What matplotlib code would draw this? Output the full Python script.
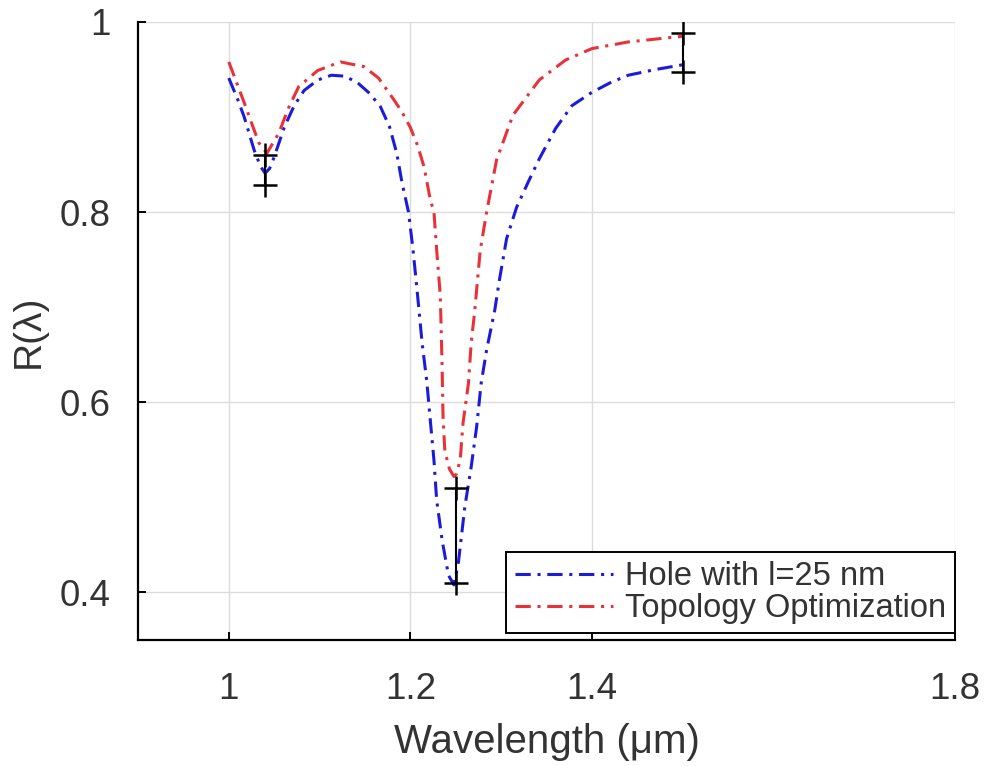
import matplotlib.pyplot as plt

plt.rcParams['font.family'] = ['Liberation Sans', 'DejaVu Sans']

# reflectance of the hole design (blue) and topology optimized design (red)
wl_hole = [1.000, 1.010, 1.017, 1.028, 1.035, 1.040, 1.045, 1.050, 1.061, 1.072,
           1.083, 1.098, 1.113, 1.128, 1.142, 1.155, 1.167, 1.177, 1.185, 1.191,
           1.198, 1.203, 1.208, 1.213, 1.218, 1.222, 1.226, 1.229, 1.235, 1.242,
           1.248, 1.253, 1.260, 1.267, 1.273, 1.278, 1.284, 1.293, 1.298, 1.306,
           1.317, 1.330, 1.342, 1.360, 1.378, 1.400, 1.420, 1.440, 1.470, 1.500]
r_hole = [0.941, 0.918, 0.900, 0.865, 0.848, 0.841, 0.846, 0.858, 0.889, 0.912,
          0.928, 0.939, 0.944, 0.943, 0.936, 0.925, 0.911, 0.890, 0.862, 0.830,
          0.800, 0.760, 0.712, 0.662, 0.623, 0.581, 0.539, 0.497, 0.455, 0.418,
          0.408, 0.432, 0.490, 0.532, 0.574, 0.620, 0.655, 0.697, 0.728, 0.772,
          0.805, 0.832, 0.856, 0.888, 0.912, 0.926, 0.936, 0.944, 0.950, 0.955]

wl_topo = [1.000, 1.017, 1.033, 1.042, 1.055, 1.066, 1.077, 1.098, 1.123, 1.149,
           1.165, 1.182, 1.191, 1.200, 1.208, 1.215, 1.222, 1.226, 1.229, 1.233,
           1.235, 1.236, 1.238, 1.243, 1.248, 1.251, 1.255, 1.258, 1.264, 1.267,
           1.271, 1.277, 1.284, 1.295, 1.313, 1.342, 1.371, 1.400, 1.440, 1.470,
           1.500]
r_topo = [0.958, 0.915, 0.873, 0.862, 0.883, 0.910, 0.932, 0.949, 0.958, 0.953,
          0.941, 0.918, 0.905, 0.889, 0.870, 0.848, 0.813, 0.800, 0.760, 0.712,
          0.637, 0.585, 0.549, 0.530, 0.522, 0.525, 0.540, 0.578, 0.620, 0.662,
          0.697, 0.760, 0.800, 0.855, 0.902, 0.939, 0.960, 0.972, 0.979, 0.982,
          0.985]

# black +-markers showing the gap between the two curves
gap_wl = [1.04, 1.25, 1.5]
gap_low = [0.829, 0.410, 0.947]
gap_high = [0.860, 0.510, 0.988]

xticks = [1, 1.2, 1.4, 1.8]
yticks = [0.4, 0.6, 0.8, 1]

fig = plt.figure(figsize=(9.88, 7.66), dpi=100)
ax = fig.add_axes([0.1397, 0.1645, 0.8269, 0.8068])

dash = (0, (5, 2.2, 1, 2.2))
ax.plot(wl_hole, r_hole, color='#1c1cd8', lw=2.2, linestyle=dash, label='Hole with l=25 nm')
ax.plot(wl_topo, r_topo, color='#e8323a', lw=2.2, linestyle=dash, label='Topology Optimization')

for x, lo, hi in zip(gap_wl, gap_low, gap_high):
    ax.plot([x, x], [lo, hi], color='k', lw=1.5, marker='+', ms=17, mew=1.8)

ax.set_xlim(0.9, 1.8)
ax.set_ylim(0.35, 1.0)
ax.set_xticks(xticks)
ax.set_xticklabels(['1', '1.2', '1.4', '1.8'])
ax.set_yticks(yticks)
ax.set_yticklabels(['0.4', '0.6', '0.8', '1'])

ax.grid(True, color='#dcdcdc', lw=1)
ax.set_axisbelow(True)
for s in ['top', 'right']:
    ax.spines[s].set_visible(False)
for s in ['left', 'bottom']:
    ax.spines[s].set_linewidth(1.6)
ax.tick_params(direction='in', length=6, width=1.4, labelsize=26.5,
               labelcolor='#333333')
ax.tick_params(axis='x', pad=23)
ax.tick_params(axis='y', pad=20)

ax.set_xlabel('Wavelength (μm)', fontsize=29, color='#333333')
ax.set_ylabel('R(λ)', fontsize=28, color='#333333')
ax.xaxis.set_label_coords(0.5, -0.135)
ax.yaxis.set_label_coords(-0.112, 0.5)

leg = ax.legend(loc='lower right', bbox_to_anchor=(1.0, 0.011), borderaxespad=0,
                fontsize=23.5, fancybox=False, framealpha=1, edgecolor='k',
                handlelength=3.0, handletextpad=0.37, labelspacing=0.02,
                borderpad=0.28)
leg.get_frame().set_linewidth(1.4)
for t in leg.get_texts():
    t.set_color('#333333')

fig.savefig('out.png', dpi=100)
